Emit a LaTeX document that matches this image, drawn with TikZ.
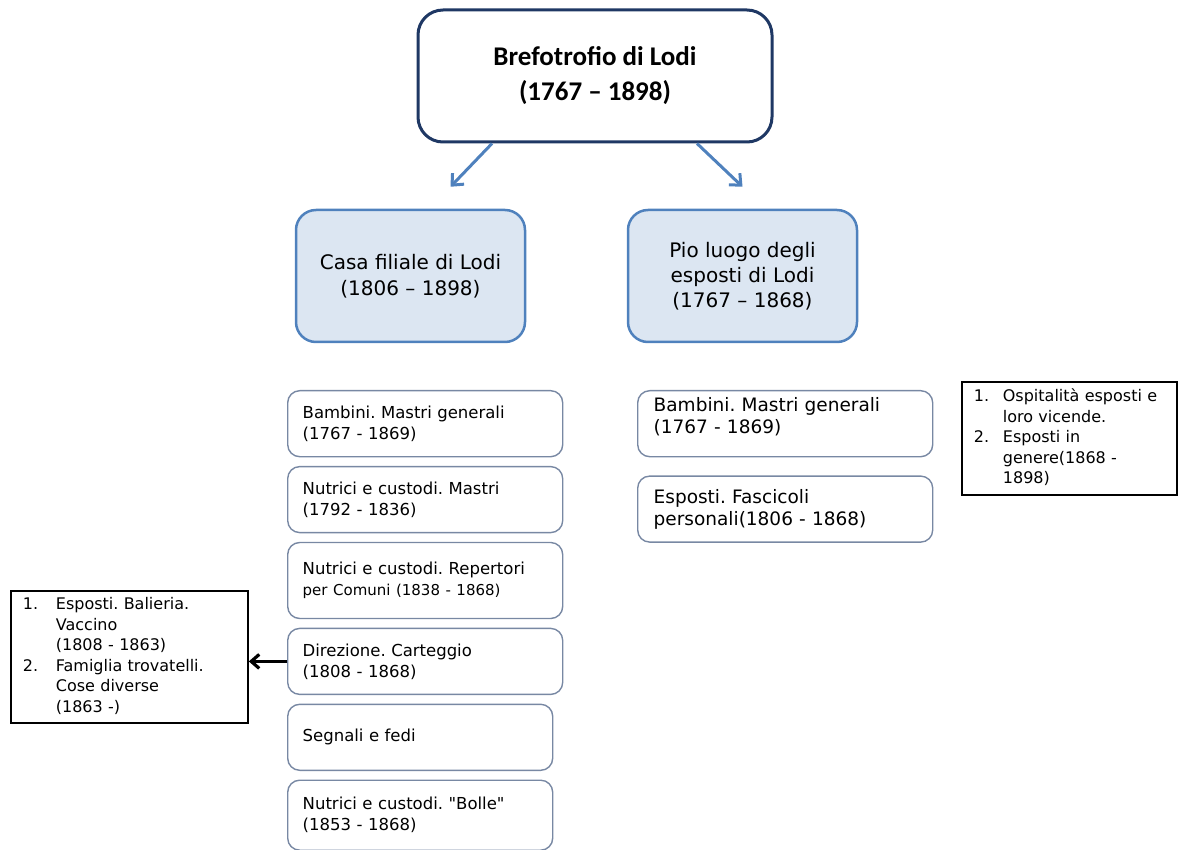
\documentclass[tikz,border=0pt]{standalone}
\usepackage{fontspec}
\setmainfont{DejaVu Sans}
\newfontfamily\calibri{Carlito}
\usetikzlibrary{arrows.meta,positioning}
\definecolor{navyline}{RGB}{31,56,100}
\definecolor{steelblue}{RGB}{79,129,189}
\definecolor{paleblue}{RGB}{220,230,242}
\definecolor{greyblue}{RGB}{120,136,163}
\frenchspacing

\begin{document}
\begin{tikzpicture}[x=1pt,y=-1pt,node distance=8.5pt,
  root/.style={draw=navyline,line width=3pt,rounded corners=25pt,
               minimum width=354pt,minimum height=132pt,align=center,
               font=\calibri\bfseries\fontsize{27}{35}\selectfont},
  branch/.style={draw=steelblue,fill=paleblue,line width=2.5pt,rounded corners=20pt,
                 minimum width=229pt,minimum height=132pt,align=center,
                 font=\fontsize{20}{26}\selectfont},
  fondo/.style={draw=greyblue,line width=1.4pt,rounded corners=12pt,
                minimum width=275pt,minimum height=66pt,text width=245pt,
                align=left,inner xsep=15pt,font=\fontsize{16.5}{21}\selectfont},
  fondobig/.style={fondo,minimum width=295pt,text width=263pt,inner xsep=16pt,
                   font=\fontsize{18.5}{22}\selectfont},
  nota/.style={draw=black,line width=1.8pt,align=left,anchor=north west,
               font=\fontsize{16}{20.5}\selectfont},
  ramo/.style={-{Straight Barb[length=9pt,width=16pt]},steelblue,line width=3pt},
  rinvio/.style={-{Straight Barb[length=8pt,width=14pt]},black,line width=3.2pt}]
  \useasboundingbox (0,0) rectangle (1192,850);
  % top
  \node[root] (brefo) at (595,76) {Brefotrofio di Lodi\\(1767 – 1898)};
  \node[branch] (casa) at (410.5,276) {Casa filiale di Lodi\\(1806 – 1898)};
  \node[branch,font=\fontsize{20}{25}\selectfont] (pio) at (742.5,276)
    {Pio luogo degli\\esposti di Lodi\\(1767 – 1868)};
  \draw[ramo] ([xshift=-103pt]brefo.south) -- ([xshift=40pt,yshift=22pt]casa.north);
  \draw[ramo] ([xshift=102pt]brefo.south)  -- ([yshift=22pt]pio.north);
  % Casa filiale
  \node[fondo,anchor=north west] (cb1) at (287,390) {Bambini. Mastri generali\\(1767 - 1869)};
  \node[fondo,below=of cb1] (cb2) {Nutrici e custodi. Mastri\\(1792 - 1836)};
  \node[fondo,below=of cb2,minimum height=76pt] (cb3)
    {Nutrici e custodi. Repertori\\{\fontsize{15}{21}\selectfont per Comuni (1838 - 1868)}};
  \node[fondo,below=of cb3] (cb4) {Direzione. Carteggio\\(1808 - 1868)};
  \node[fondo,below=of cb4.south west,anchor=north west,minimum width=265pt,text width=235pt] (cb5)
    {Segnali e fedi};
  \node[fondo,below=of cb5,minimum width=265pt,text width=235pt,minimum height=70pt] (cb6)
    {Nutrici e custodi. \textquotedbl Bolle\textquotedbl\\(1853 - 1868)};
  \node[nota,minimum width=237pt,minimum height=132pt,text width=213pt,inner xsep=12pt] (notacasa) at (10,590)
    {\begin{tabular}{@{}p{33pt}@{}l@{}}
     1. & Esposti. Balieria.\\
        & Vaccino\\
        & (1808 - 1863)\\
     2. & Famiglia trovatelli.\\
        & Cose diverse\\
        & (1863 -)
     \end{tabular}};
  \draw[rinvio] (cb4.west) -- (cb4.west -| notacasa.east);
  % Pio luogo
  \node[fondobig,anchor=north west] (pb1) at (637,390) {Bambini. Mastri generali\\(1767 - 1869)\\[-6pt]\mbox{}};
  \node[fondobig,below=18pt of pb1] (pb2) {Esposti. Fascicoli\\personali(1806 - 1868)};
  \node[nota,minimum width=215pt,minimum height=113pt,text width=191pt,inner xsep=12pt] (notapio) at (961,381)
    {\begin{tabular}{@{}p{29pt}@{}l@{}}
     1. & Ospitalità esposti e\\
        & loro vicende.\\
     2. & Esposti in\\
        & genere(1868 -\\
        & 1898)
     \end{tabular}};
\end{tikzpicture}
\end{document}
